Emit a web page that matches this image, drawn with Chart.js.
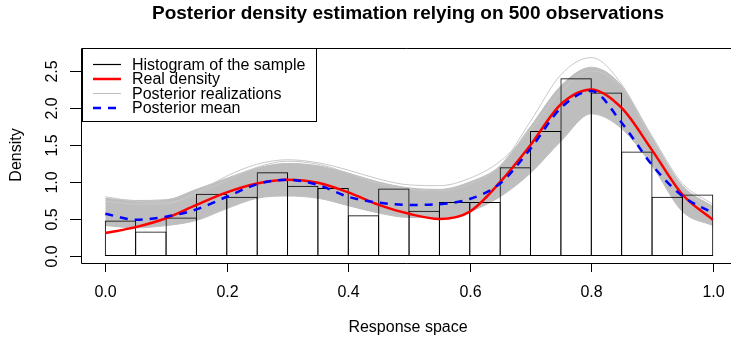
<!DOCTYPE html>
<html><head><meta charset="utf-8">
<script src="https://cdn.jsdelivr.net/npm/chart.js@4/dist/chart.umd.min.js"></script>
<style>html,body{margin:0;padding:0;background:#fff}#wrap{width:731px;height:341px}</style>
</head><body><div id="wrap"><canvas id="c" width="731" height="341"></canvas></div>
<script>
// ---- data ----
const binCenters = [0.025,0.075,0.125,0.175,0.225,0.275,0.325,0.375,0.425,0.475,0.525,0.575,0.625,0.675,0.725,0.775,0.825,0.875,0.925,0.975];
const histHeights = [0.48,0.33,0.52,0.84,0.80,1.13,0.95,0.92,0.55,0.91,0.61,0.73,0.73,1.20,1.69,2.40,2.21,1.41,0.80,0.83];
const gridX = [0,0.05,0.1,0.15,0.2,0.25,0.3,0.35,0.4,0.45,0.5,0.55,0.6,0.65,0.7,0.75,0.8,0.85,0.9,0.95,1.0];
const realDensity   = [0.31,0.39,0.51,0.69,0.86,0.98,1.03,0.99,0.86,0.69,0.57,0.50,0.60,1.00,1.50,2.05,2.25,2.00,1.43,0.83,0.49];
const posteriorMean = [0.57,0.49,0.53,0.63,0.80,0.97,1.03,0.96,0.80,0.72,0.69,0.70,0.77,0.98,1.45,2.00,2.23,1.80,1.23,0.81,0.58];
const bandUpper = [0.78,0.75,0.76,0.90,1.05,1.19,1.25,1.22,1.12,1.00,0.92,0.90,1.00,1.22,1.75,2.30,2.55,2.30,1.60,0.95,0.67];
const bandLower = [0.41,0.38,0.41,0.48,0.64,0.78,0.81,0.78,0.68,0.58,0.52,0.52,0.60,0.80,1.12,1.55,1.92,1.72,1.22,0.60,0.41];
const realizationA = [0.80,0.74,0.72,0.84,1.02,1.20,1.28,1.24,1.12,0.98,0.90,0.88,0.97,1.22,1.82,2.45,2.68,2.32,1.56,0.92,0.62];
const realizationB = [0.74,0.70,0.70,0.86,1.08,1.24,1.30,1.26,1.16,1.04,0.96,0.95,1.05,1.28,1.70,2.22,2.50,2.28,1.62,0.98,0.70];
const xTicks = [0,0.2,0.4,0.6,0.8,1.0];
const xTickLabels = ['0.0','0.2','0.4','0.6','0.8','1.0'];
const yTicks = [0,0.5,1,1.5,2,2.5];
const yTickLabels = ['0.0','0.5','1.0','1.5','2.0','2.5'];
const titleText = 'Posterior density estimation relying on 500 observations';
const xTitle = 'Response space';
const yTitle = 'Density';
const legendItems = ['Histogram of the sample','Real density','Posterior realizations','Posterior mean'];

const FONT = '"Liberation Sans", Arial, sans-serif';
const pts = arr => gridX.map((x,i)=>({x:x, y:arr[i]}));

const decor = {
  id:'decor',
  afterDraw(chart){
    const ctx = chart.ctx, a = chart.chartArea;
    const xs = chart.scales.x, ys = chart.scales.y;
    ctx.save();
    ctx.strokeStyle = '#000'; ctx.lineWidth = 1;
    // box (right edge is outside the picture)
    ctx.beginPath();
    ctx.moveTo(731, a.top+0.5); ctx.lineTo(a.left+0.5, a.top+0.5);
    ctx.lineTo(a.left+0.5, a.bottom+0.5); ctx.lineTo(731, a.bottom+0.5);
    ctx.stroke();
    // axes ticks and labels
    ctx.fillStyle = '#000';
    ctx.font = '16px '+FONT;
    ctx.textAlign='center'; ctx.textBaseline='middle';
    xTicks.forEach((v,i)=>{
      const px = Math.round(xs.getPixelForValue(v))+0.5;
      ctx.beginPath(); ctx.moveTo(px, a.bottom); ctx.lineTo(px, a.bottom+9); ctx.stroke();
      ctx.fillText(xTickLabels[i], px, 293);
    });
    yTicks.forEach((v,i)=>{
      const py = Math.round(ys.getPixelForValue(v))+0.5;
      ctx.beginPath(); ctx.moveTo(a.left, py); ctx.lineTo(a.left-11, py); ctx.stroke();
      ctx.save(); ctx.translate(53, py); ctx.rotate(-Math.PI/2);
      ctx.fillText(yTickLabels[i], 0, 0); ctx.restore();
    });
    ctx.fillText(xTitle, 408, 328);
    ctx.save(); ctx.translate(17, 155); ctx.rotate(-Math.PI/2); ctx.fillText(yTitle,0,0); ctx.restore();
    ctx.font = 'bold 19px '+FONT;
    ctx.fillText(titleText, 408, 14);
    // legend
    const lx=82.5, ly=48.5, lw=234, lh=73;
    ctx.fillStyle='#fff'; ctx.fillRect(lx,ly,lw,lh);
    ctx.strokeStyle='#000'; ctx.lineWidth=1; ctx.strokeRect(lx,ly,lw,lh);
    const rows=[64.5,79,93.5,108];
    const styles=[
      {c:'#000',w:1.2,d:[]},
      {c:'#ff0000',w:2.5,d:[]},
      {c:'#bebebe',w:1,d:[]},
      {c:'#0000ff',w:2.5,d:[8,7]}
    ];
    ctx.font='16px '+FONT; ctx.textAlign='left'; ctx.textBaseline='middle';
    legendItems.forEach((t,i)=>{
      const s=styles[i];
      ctx.beginPath(); ctx.strokeStyle=s.c; ctx.lineWidth=s.w; ctx.setLineDash(s.d);
      ctx.moveTo(93,rows[i]); ctx.lineTo(121,rows[i]); ctx.stroke(); ctx.setLineDash([]);
      ctx.fillStyle='#000'; ctx.fillText(t,132,rows[i]+1);
    });
    ctx.restore();
  }
};

new Chart(document.getElementById('c'), {
  type:'bar',
  data:{
    datasets:[
      {type:'line', data:pts(bandUpper), borderColor:'#bebebe', borderWidth:1, backgroundColor:'#bebebe', fill:'+1', pointRadius:0, cubicInterpolationMode:'monotone', order:10},
      {type:'line', data:pts(bandLower), borderColor:'#bebebe', borderWidth:1, backgroundColor:'#bebebe', fill:false, pointRadius:0, cubicInterpolationMode:'monotone', order:9},
      {type:'line', data:pts(realizationA), borderColor:'#c8c8c8', borderWidth:1, fill:false, pointRadius:0, cubicInterpolationMode:'monotone', order:8},
      {type:'line', data:pts(realizationB), borderColor:'#c8c8c8', borderWidth:1, fill:false, pointRadius:0, cubicInterpolationMode:'monotone', order:8},
      {type:'bar', data:binCenters.map((x,i)=>({x:x,y:histHeights[i]})), backgroundColor:'rgba(0,0,0,0)', borderColor:'#000',
        borderWidth:1, borderSkipped:false, barPercentage:1.033, categoryPercentage:1, order:5},
      {type:'line', data:pts(realDensity), borderColor:'#ff0000', borderWidth:2.5, fill:false, pointRadius:0, cubicInterpolationMode:'monotone', order:2},
      {type:'line', data:pts(posteriorMean), borderColor:'#0000ff', borderWidth:2.5, borderDash:[8,7], fill:false, pointRadius:0, cubicInterpolationMode:'monotone', order:1}
    ]
  },
  options:{
    responsive:false, animation:false, devicePixelRatio:1,
    layout:{padding:{left:81, top:48, right:0, bottom:78}},
    plugins:{legend:{display:false}, tooltip:{enabled:false}, title:{display:false}},
    scales:{
      x:{type:'linear', min:-0.04, max:1.03, offset:false, display:false},
      y:{type:'linear', min:-0.095, max:2.81, display:false}
    }
  },
  plugins:[decor]
});
</script></body></html>
